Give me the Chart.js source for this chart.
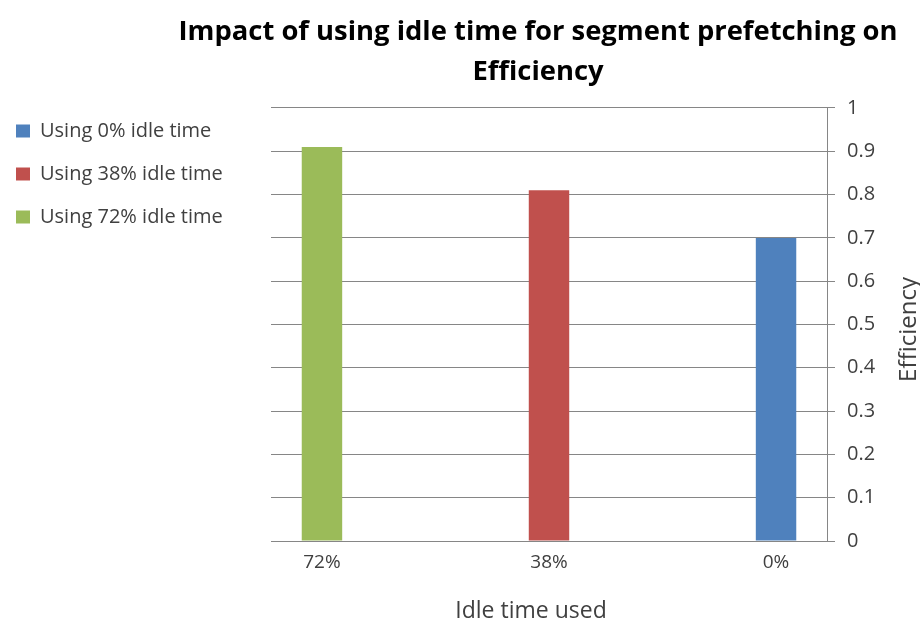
<!DOCTYPE html>
<html>
<head>
<meta charset="utf-8">
<script src="https://cdn.jsdelivr.net/npm/chart.js@4.4.1/dist/chart.umd.min.js"></script>
<style>
  body { margin: 0; background: #fff; }
  #wrap { width: 920px; height: 628px; }
</style>
</head>
<body>
<div id="wrap"><canvas id="chart-area" width="920" height="628"></canvas></div>
<script>
// data
var categories = ['72%', '38%', '0%'];
var seriesLabels = ['Using 72% idle time', 'Using 38% idle time', 'Using 0% idle time'];
var idle72 = [0.91, null, null];
var idle38 = [null, 0.81, null];
var idle0 = [null, null, 0.70];
var yTicks = [0, 0.1, 0.2, 0.3, 0.4, 0.5, 0.6, 0.7, 0.8, 0.9, 1];
var titleLines = ['Impact of using idle time for segment prefetching on', 'Efficiency'];

var colours = ['#9BBB59', '#C0504D', '#4F81BD'];
var fontName = '"Open Sans", sans-serif';
var textColour = '#404040';

// widen the legend box so the plot starts where it does in the picture
var legendWidth = {
    id: 'legendWidth',
    beforeInit: function (chart) {
        var fit = chart.legend.fit;
        chart.legend.fit = function () {
            fit.bind(chart.legend)();
            this.width = 278;
        };
    }
};

// title sits a bit left of the plot centre, x labels sit under their bar,
// the y title reads bottom to top
var extraText = {
    id: 'extraText',
    afterDraw: function (chart) {
        var ctx = chart.ctx;
        var xs = chart.scales.x;
        var ys = chart.scales.y;
        var t = chart.titleBlock;
        var mid = (xs.left + xs.right) / 2;
        ctx.save();
        ctx.textAlign = 'center';
        ctx.textBaseline = 'middle';
        ctx.fillStyle = '#000';
        ctx.font = 'bold 27.4px ' + fontName;
        titleLines.forEach(function (line, i) {
            ctx.fillText(line, mid - 11, t.top + 22 + i * 40);
        });
        ctx.fillStyle = textColour;
        ctx.font = '19px ' + fontName;
        categories.forEach(function (cat, i) {
            chart.data.datasets.forEach(function (ds, d) {
                if (ds.data[i] == null) return;
                var bar = chart.getDatasetMeta(d).data[i];
                ctx.fillText(cat, bar.x, xs.top + 22);
            });
        });
        ctx.font = '23px ' + fontName;
        ctx.fillText('Idle time used', mid - 18, xs.bottom - 12);
        ctx.translate(ys.right - 11, (ys.top + ys.bottom) / 2 + 5);
        ctx.rotate(-Math.PI / 2);
        ctx.font = '24px ' + fontName;
        ctx.fillText('Efficiency', 0, 0);
        ctx.restore();
    }
};

var ctx = document.getElementById('chart-area').getContext('2d');
window.myBar = new Chart(ctx, {
    type: 'bar',
    data: {
        labels: categories,
        datasets: [
            { label: seriesLabels[0], data: idle72, backgroundColor: colours[0] },
            { label: seriesLabels[1], data: idle38, backgroundColor: colours[1] },
            { label: seriesLabels[2], data: idle0, backgroundColor: colours[2] }
        ]
    },
    options: {
        responsive: false,
        animation: false,
        categoryPercentage: 0.675,
        barPercentage: 0.97,
        layout: { padding: { top: 10, right: 0, bottom: 5, left: -7 } },
        plugins: {
            // keeps the room for the title, the text itself is drawn by extraText
            title: {
                display: true,
                fullSize: false,
                text: titleLines,
                font: { family: fontName, size: 30, weight: 'bold', lineHeight: 1.333 },
                color: 'rgba(0,0,0,0)',
                padding: { top: 0, bottom: 18 }
            },
            legend: {
                position: 'left',
                align: 'start',
                reverse: true,
                title: { display: true, text: ' ', font: { size: 10 }, padding: { top: 76, bottom: 0 } },
                labels: {
                    boxWidth: 14,
                    boxHeight: 13,
                    padding: 23,
                    color: textColour,
                    font: { family: fontName, size: 20 }
                }
            },
            tooltip: { enabled: false }
        },
        scales: {
            x: {
                grid: { display: false },
                border: { display: true, color: '#868686' },
                ticks: { color: 'rgba(0,0,0,0)', font: { family: fontName, size: 19 } },
                afterFit: function (scale) { scale.height = 82; }
            },
            y: {
                position: 'right',
                min: 0,
                max: 1,
                afterBuildTicks: function (scale) {
                    scale.ticks = yTicks.map(function (v) { return { value: v }; });
                },
                afterFit: function (scale) { scale.width = 93; },
                grid: { color: '#868686', tickLength: 8 },
                border: { display: true, color: '#868686' },
                ticks: {
                    color: textColour,
                    font: { family: fontName, size: 20 },
                    padding: 12,
                    callback: function (v) { return String(v); }
                }
            }
        }
    },
    plugins: [legendWidth, extraText]
});
</script>
</body>
</html>
